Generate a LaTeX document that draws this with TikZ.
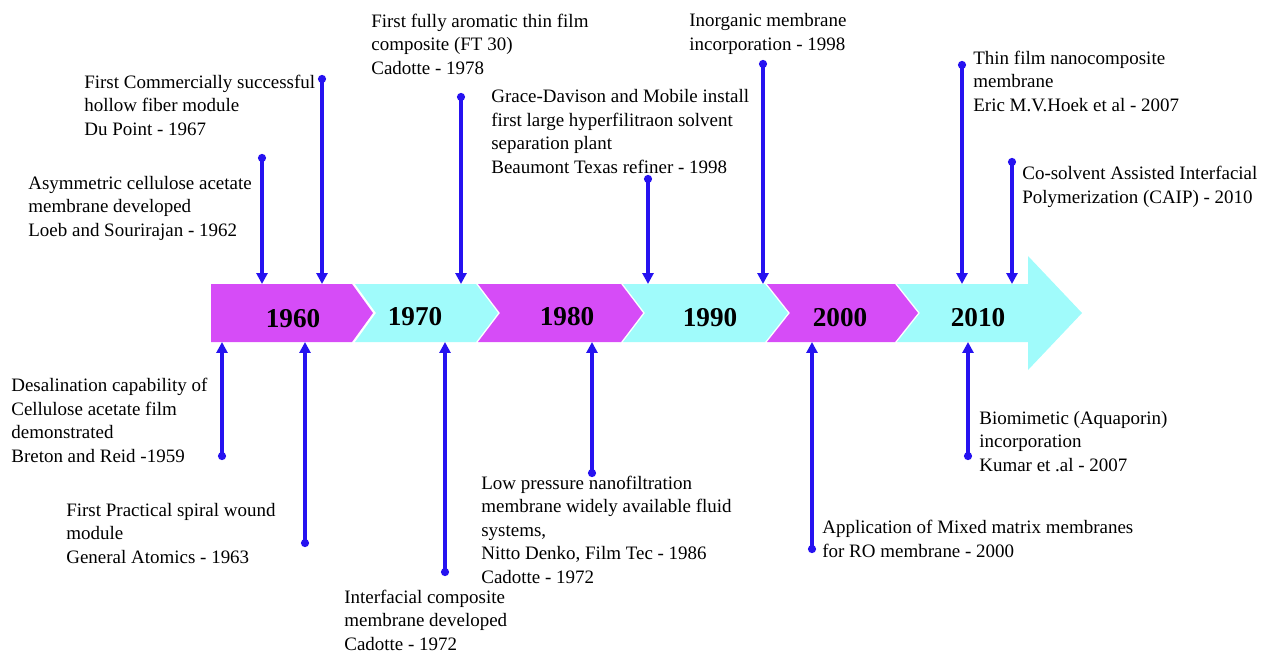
\documentclass[tikz,border=0pt]{standalone}
\usepackage{fontspec}
\setmainfont{Liberation Serif}
\usepackage{tikz}
\usetikzlibrary{arrows.meta,positioning}
\definecolor{segmag}{RGB}{214,76,247}
\definecolor{segcyan}{RGB}{160,251,251}
\definecolor{stemblue}{RGB}{38,18,240}
\tikzset{
    %Define style for milestone texts (anchored at the last line)
    milestone/.style={
           inner sep=0pt,
           anchor=base west,
           align=left,
           font=\fontsize{10.8pt}{13.3pt}\selectfont},
    %Define style for year labels
    yearlbl/.style={
           inner sep=0pt,
           font=\fontsize{15.5pt}{18pt}\selectfont\bfseries},
    %Define style for band segments
    magseg/.style={fill=segmag},
    cyanseg/.style={fill=segcyan},
    % Define arrow style
    stem/.style={
           {Circle[length=4.5pt]}-{Triangle[width=6.2pt,length=6.2pt]},
           draw=stemblue,
           line width=2pt}
}
\begin{document}
\begin{tikzpicture}[x=0.02cm,y=-0.02cm]
\useasboundingbox (0,0) rectangle (1268,653);
% band
\fill[magseg] (211,284) -- (352,284) -- (373,313) -- (352,342) -- (211,342) -- cycle;
\fill[cyanseg] (355,284) -- (476,284) -- (498,313) -- (476,342) -- (355,342) -- (376,313) -- cycle;
\fill[magseg] (478,284) -- (621,284) -- (643,313) -- (621,342) -- (478,342) -- (500,313) -- cycle;
\fill[cyanseg] (623,284) -- (765,284) -- (788,313) -- (765,342) -- (623,342) -- (645,313) -- cycle;
\fill[magseg] (767,284) -- (895,284) -- (918,313) -- (895,342) -- (767,342) -- (790,313) -- cycle;
\fill[cyanseg] (897,284) -- (1028,284) -- (1028,256) -- (1082,313) -- (1028,370) -- (1028,342)
	-- (897,342) -- (920,313) -- cycle;
\node[yearlbl](y1960) at (293,319){1960};
\node[yearlbl](y1970) at (415,317){1970};
\node[yearlbl](y1980) at (567,317){1980};
\node[yearlbl](y1990) at (710,318){1990};
\node[yearlbl](y2000) at (840,318){2000};
\node[yearlbl](y2010) at (978,318){2010};
\coordinate (bandtop) at (0,284);
\coordinate (bandbot) at (0,342);
% above the band
\node[milestone](asym) at (28,236){Asymmetric cellulose acetate\\membrane developed\\Loeb and Sourirajan - 1962};
\node[milestone](hollow) at (84,135){First Commercially successful\\hollow fiber module\\Du Point - 1967};
\node[milestone](ft30) at (371,74){First fully aromatic thin film\\composite (FT 30)\\Cadotte - 1978};
\node[milestone](grace) at (491,173){Grace-Davison and Mobile install\\first large hyperfilitraon solvent\\separation plant\\Beaumont Texas refiner - 1998};
\node[milestone](inorg) at (689,50){Inorganic membrane\\incorporation - 1998};
\node[milestone](tfn) at (973,111){Thin film nanocomposite\\membrane\\Eric M.V.Hoek et al - 2007};
\node[milestone](caip) at (1022,203){Co-solvent Assisted Interfacial\\Polymerization (CAIP) - 2010};
% below the band
\node[milestone](desal) at (11,462){Desalination capability of\\Cellulose acetate film\\demonstrated\\Breton and Reid -1959};
\node[milestone](spiral) at (66,563){First Practical spiral wound\\module\\General Atomics - 1963};
\node[milestone](interf) at (344,650){Interfacial composite\\membrane developed\\Cadotte - 1972};
\node[milestone](nano) at (481,583){Low pressure nanofiltration\\membrane widely available fluid\\systems,\\Nitto Denko, Film Tec - 1986\\Cadotte - 1972};
\node[milestone](mixed) at (822,557){Application of Mixed matrix membranes\\for RO membrane - 2000};
\node[milestone](bio) at (979,471){Biomimetic (Aquaporin)\\incorporation\\Kumar et .al - 2007};
% dots
\coordinate (asymdot) at (262,154);
\coordinate (hollowdot) at (322,75);
\coordinate (ft30dot) at (461,93);
\coordinate (gracedot) at (648,175);
\coordinate (inorgdot) at (763,60);
\coordinate (tfndot) at (962,61);
\coordinate (caipdot) at (1012,158);
\coordinate (desaldot) at (222,460);
\coordinate (spiraldot) at (305,547);
\coordinate (interfdot) at (445,576);
\coordinate (nanodot) at (592,477);
\coordinate (mixeddot) at (812,553);
\coordinate (biodot) at (968,460);
\path
	(asymdot) edge[stem] (asymdot |- bandtop)
	(hollowdot) edge[stem] (hollowdot |- bandtop)
	(ft30dot) edge[stem] (ft30dot |- bandtop)
	(gracedot) edge[stem] (gracedot |- bandtop)
	(inorgdot) edge[stem] (inorgdot |- bandtop)
	(tfndot) edge[stem] (tfndot |- bandtop)
	(caipdot) edge[stem] (caipdot |- bandtop)
	(desaldot) edge[stem] (desaldot |- bandbot)
	(spiraldot) edge[stem] (spiraldot |- bandbot)
	(interfdot) edge[stem] (interfdot |- bandbot)
	(nanodot) edge[stem] (nanodot |- bandbot)
	(mixeddot) edge[stem] (mixeddot |- bandbot)
	(biodot) edge[stem] (biodot |- bandbot);
\end{tikzpicture}
\end{document}
